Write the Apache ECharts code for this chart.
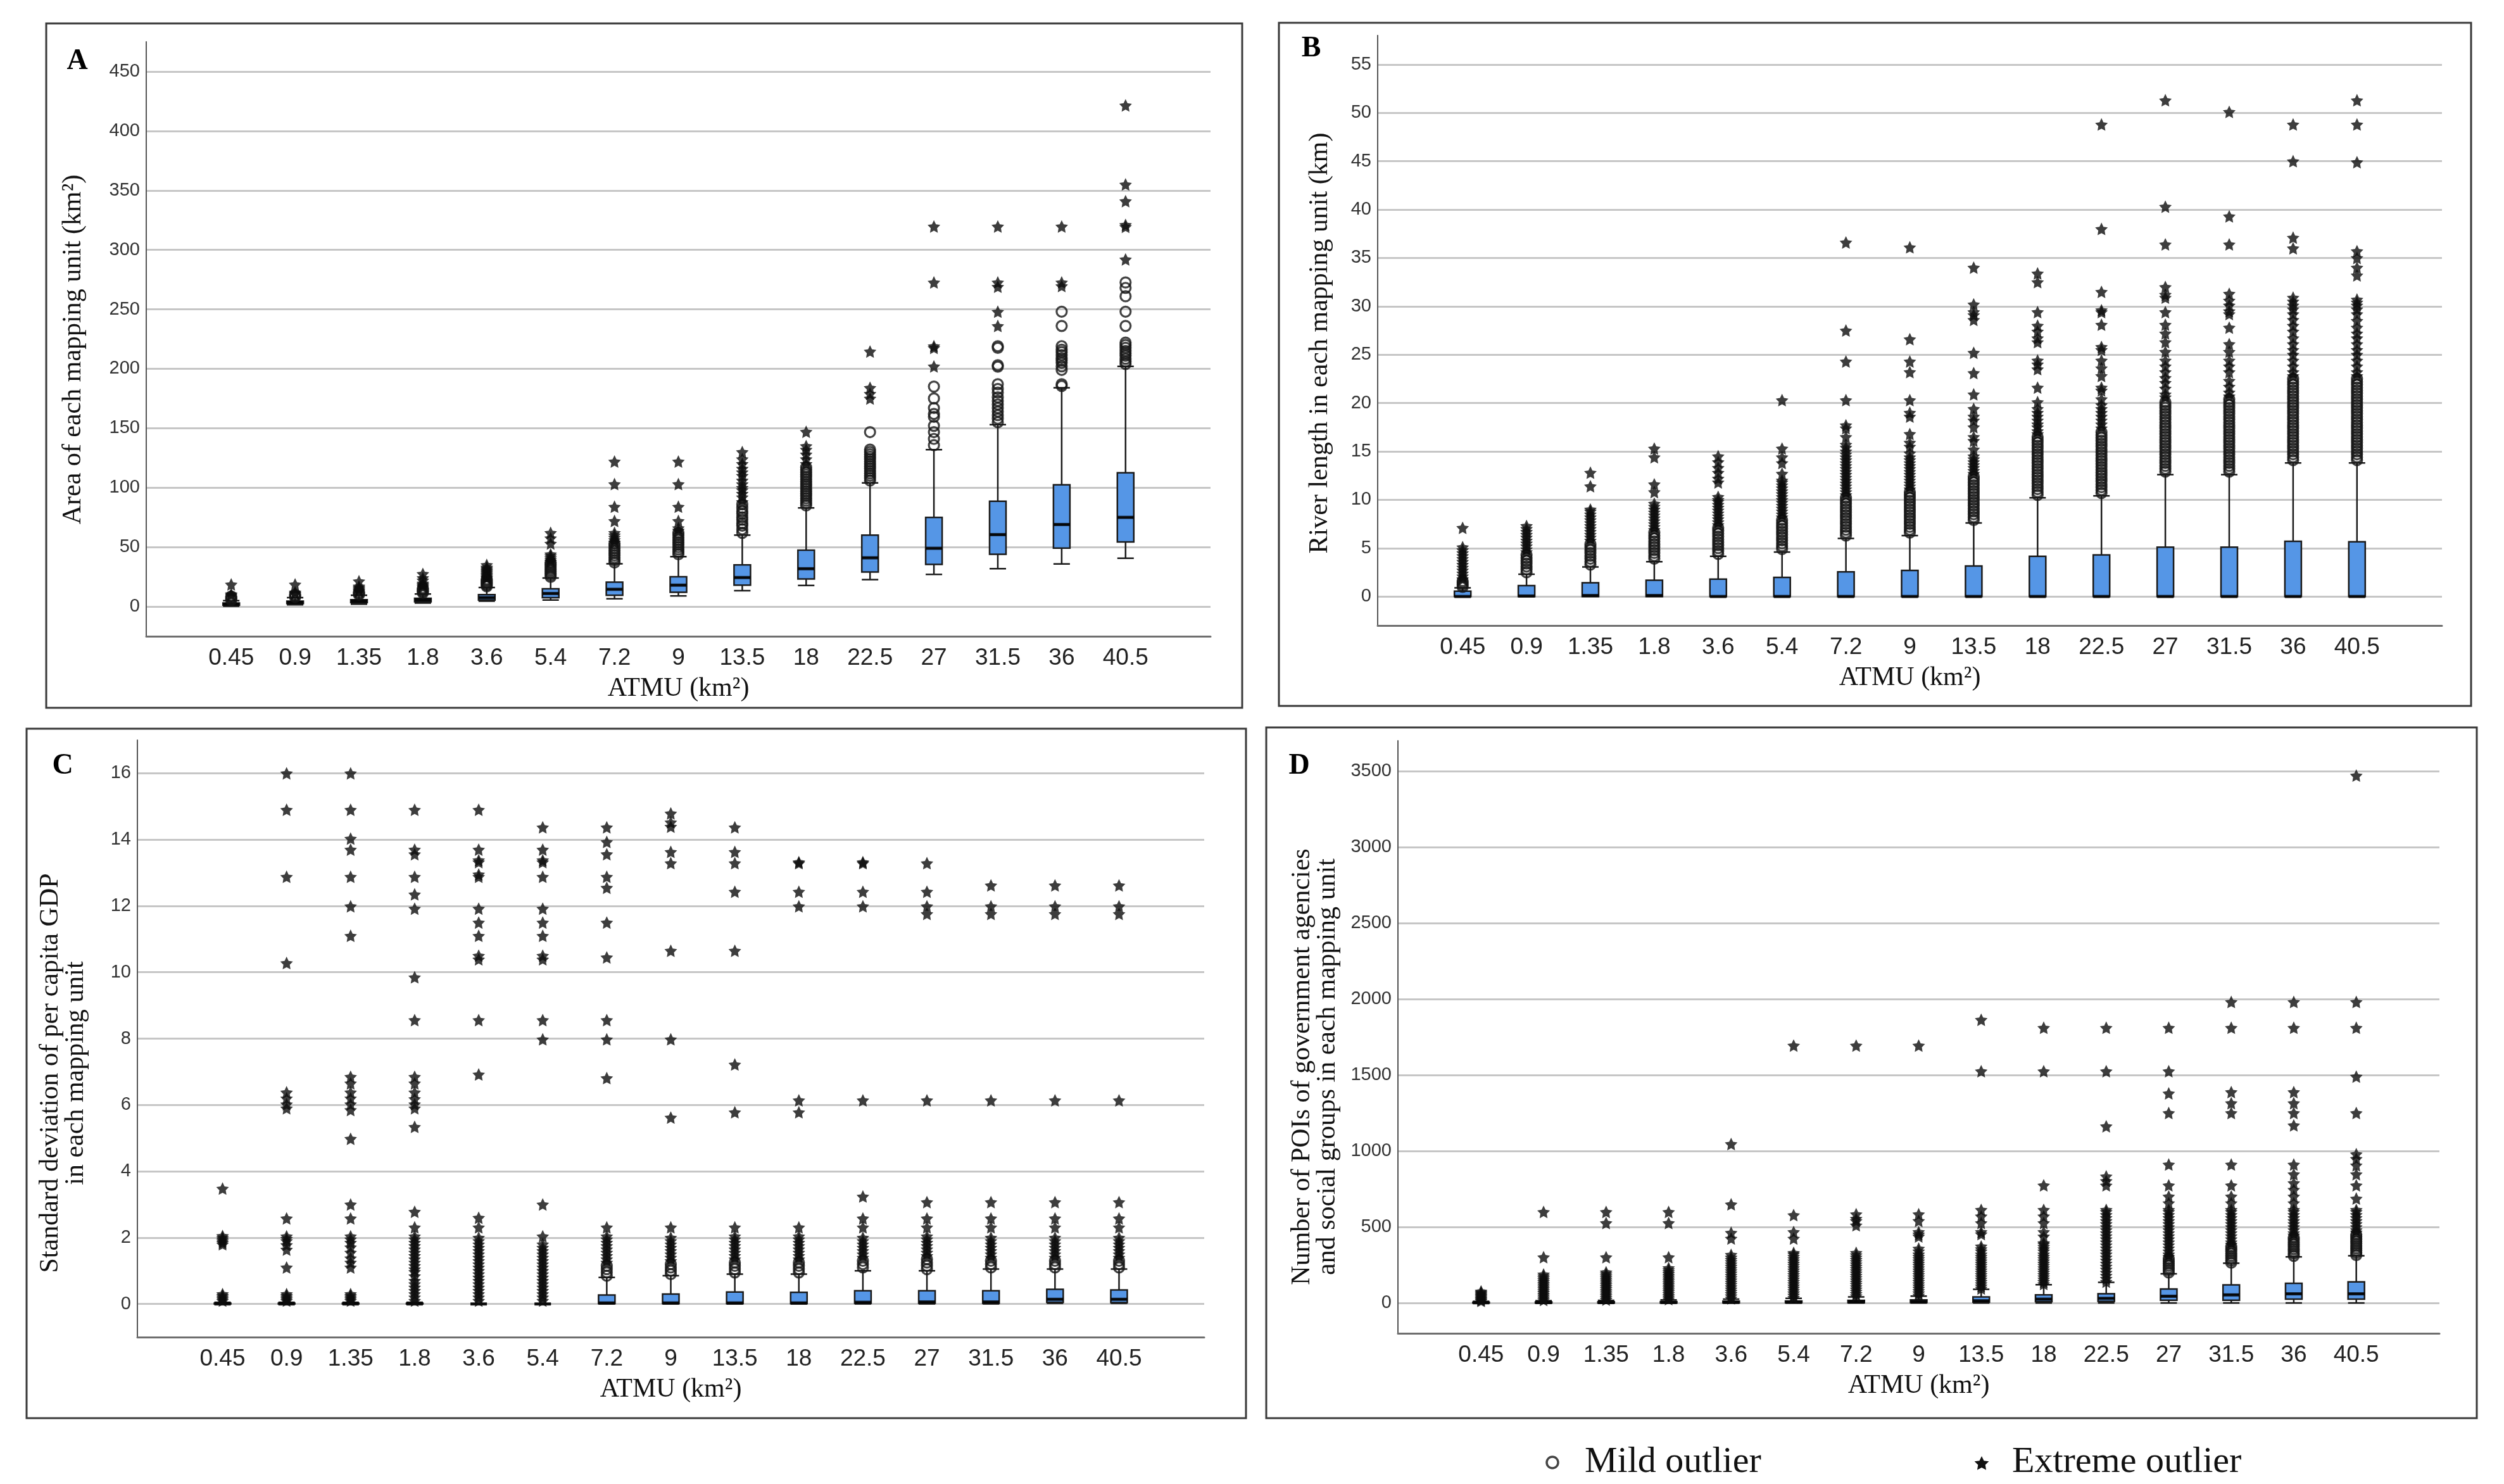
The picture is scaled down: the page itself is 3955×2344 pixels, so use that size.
<!DOCTYPE html>
<html>
<head>
<meta charset="utf-8">
<script src="https://cdn.jsdelivr.net/npm/echarts@6/dist/echarts.min.js"></script>
<style>html,body{margin:0;padding:0;background:#fff;}#chart{width:3955px;height:2344px;}</style>
</head>
<body>
<div id="chart"></div>
<script>
const categories = ['0.45','0.9','1.35','1.8','3.6','5.4','7.2','9','13.5','18','22.5','27','31.5','36','40.5'];

// ---------- Panel A: area (km2) ----------  [min, Q1, median, Q3, max]
const aBox = [
  [0.3,1.2,2.0,3.0,5],[1.5,2.5,3.5,4.5,7.5],[2,3.3,4.5,5.8,9.5],[3,4,5.5,7,10.5],[4.5,5.5,7.5,10,16],
  [5.5,7.5,11,15,24],[6.5,9.5,14.5,20.5,36],[9,12,18,25,42],[13.4,18,24.4,35,60],[17.7,23.2,31.8,47.4,83],
  [22.6,29,41,60,104],[27,35.5,49,75,132],[31.8,44,60.5,88.6,153],[35.8,49.2,69,102.4,184],[40.6,54.4,75,112.5,202]
];
const aMild = [
  [5.5,6.5,7.5,8.5],[8,9,10],[10,11,12],[11.5,12.5,13.5,14.5,15.5],[17,18,19,20,21,22,23],
  [25,26.5,28,29.5,31,32.5,34,35.5,37],[37,39,41,43,45,47,49,51,53],[44,46,48,50,52,54,56,58,60,62],
  [62,65,68,70,73,75,78,80,83,86],
  [85,87,89,91,93,95,97,99,101,103,105,107,109,111,113,115,117],
  [106,108,110,112,114,116,118,120,122,124,126,128,130,132,146.7],
  [135.7,141,146.7,152,159.5,162,167,175,185],
  [155,158,161,164,167,170,173,176,180,183,187,201.7,203,217.6,219],
  [185.5,187,199,202,205,207,209,211.5,214,216,219,236,248],
  [204,206,208.4,211,213,215,217.6,220,222,236,248,261,268,272.6]
];
const aExtreme = [
  [9.5,10.5,18.6],[11,12,18.6],[13,14,15,16,17,21.3],[16.5,17.5,18.5,19.5,22,24,27.5],
  [24,25,26,27,28,29,30,31,32,33,35],[38,39.5,41,42.5,44,53,57.5,62],[54,56,58,60,62,72,84,103,122],
  [64,66,72,84,103,122],[88,92,95,98,100,103,106,110,113,116,120,124,130],[120,124,128,132,135,147],
  [175,179,184,214.5],[202,217.6,219,272.6,319.7],[236,248,269,272.6,319.7],[269.6,272.6,319.7],
  [292,319.4,321,341,355,421.5]
];

// ---------- Panel B: river length (km) ----------
const bBox = [
  [0,0,0,0.55,0.9],[0,0,0.05,1.12,2.3],[0,0,0.1,1.42,3.05],[0,0,0.1,1.68,3.6],[0,0,0,1.8,4.15],
  [0,0,0,1.97,4.6],[0,0,0,2.55,6.0],[0,0,0,2.7,6.3],[0,0,0,3.15,7.6],[0,0,0,4.15,10.2],
  [0,0,0,4.3,10.4],[0,0,0,5.1,12.6],[0,0,0,5.1,12.6],[0,0,0,5.7,13.8],[0,0,0,5.65,13.8]
];
const bMild = [
  [1.0,1.2,1.4,1.6],
  [2.5,2.8,3.1,3.4,3.7,4.0,4.3],
  [3.3,3.6,3.9,4.2,4.5,4.8,5.1,5.4],
  [3.9,4.2,4.5,4.8,5.1,5.4,5.7,6.0,6.3,6.6],
  [4.4,4.7,5.0,5.3,5.6,5.9,6.2,6.5,6.8,7.1],
  [4.9,5.2,5.5,5.8,6.1,6.4,6.7,7.0,7.3,7.6,7.9],
  [6.3,6.6,6.9,7.2,7.5,7.8,8.1,8.4,8.7,9.0,9.3,9.6,9.9,10.2],
  [6.6,6.9,7.2,7.5,7.8,8.1,8.4,8.7,9.0,9.3,9.6,9.9,10.2,10.5,10.8],
  [7.9,8.2,8.5,8.8,9.1,9.4,9.7,10.0,10.3,10.6,10.9,11.2,11.5,11.8,12.1,12.4],
  [10.5,10.8,11.1,11.4,11.7,12.0,12.3,12.6,12.9,13.2,13.5,13.8,14.1,14.4,14.7,15.0,15.3,15.6,15.9,16.2,16.5],
  [10.7,11.0,11.3,11.6,11.9,12.2,12.5,12.8,13.1,13.4,13.7,14.0,14.3,14.6,14.9,15.2,15.5,15.8,16.1,16.4,16.7,17.0],
  [12.9,13.2,13.5,13.8,14.1,14.4,14.7,15.0,15.3,15.6,15.9,16.2,16.5,16.8,17.1,17.4,17.7,18.0,18.3,18.6,18.9,19.2,19.5,19.8,20.1],
  [12.9,13.2,13.5,13.8,14.1,14.4,14.7,15.0,15.3,15.6,15.9,16.2,16.5,16.8,17.1,17.4,17.7,18.0,18.3,18.6,18.9,19.2,19.5,19.8,20.1,20.4],
  [14.1,14.4,14.7,15.0,15.3,15.6,15.9,16.2,16.5,16.8,17.1,17.4,17.7,18.0,18.3,18.6,18.9,19.2,19.5,19.8,20.1,20.4,20.7,21.0,21.3,21.6,21.9,22.2,22.5],
  [14.1,14.4,14.7,15.0,15.3,15.6,15.9,16.2,16.5,16.8,17.1,17.4,17.7,18.0,18.3,18.6,18.9,19.2,19.5,19.8,20.1,20.4,20.7,21.0,21.3,21.6,21.9,22.2,22.5]
];
const bExtreme = [
  [1.8,2.1,2.4,2.7,3.0,3.3,3.6,3.9,4.2,4.5,4.8,5.1,7.1],
  [4.6,4.9,5.2,5.5,5.8,6.1,6.4,6.7,7.0,7.3],
  [5.8,6.1,6.4,6.7,7.0,7.3,7.6,7.9,8.2,8.5,8.8,9.0,11.4,12.8],
  [6.9,7.2,7.5,7.8,8.1,8.4,8.7,9.0,9.3,9.6,10.8,11.6,14.4,15.3],
  [7.4,7.7,8.0,8.3,8.6,8.9,9.2,9.5,9.8,10.0,10.3,11.8,12.2,12.8,13.3,13.9,14.5],
  [8.2,8.5,8.8,9.1,9.4,9.7,10.0,10.3,10.6,10.9,11.2,11.5,11.8,12.0,12.7,13.8,14.4,15.3,20.3],
  [10.5,10.8,11.1,11.4,11.7,12.0,12.3,12.6,12.9,13.2,13.5,13.8,14.1,14.4,14.7,15.0,15.4,15.7,16.5,17.4,17.7,20.3,24.3,27.5,36.6],
  [11.1,11.4,11.7,12.0,12.3,12.6,12.9,13.2,13.5,13.8,14.1,14.4,14.8,15.5,15.9,16.8,18.6,19.0,20.3,23.2,24.3,26.6,36.1],
  [12.7,13.0,13.3,13.6,13.9,14.2,14.5,15.2,16.1,16.5,17.5,18.2,18.6,19.4,20.9,23.1,25.2,28.6,29.1,29.4,30.2,34.0],
  [16.8,17.1,17.5,17.8,18.2,18.6,19.0,19.4,20.1,21.6,23.5,24.0,24.4,26.3,26.7,27.4,28.0,29.4,32.5,33.4],
  [17.4,17.8,18.2,18.6,19.0,19.4,19.8,20.4,21.3,21.6,22.8,23.6,24.4,25.5,25.8,28.1,29.4,29.6,31.5,38.0,48.8],
  [20.6,20.9,21.5,22.1,22.6,23.2,23.8,24.4,25.3,26.3,27.2,28.1,29.4,30.9,31.2,32.0,36.4,40.3,51.3],
  [20.7,21.1,21.7,22.3,23.2,23.8,24.4,25.3,26.1,27.8,29.2,29.5,30.1,30.6,31.3,36.4,39.3,50.1],
  [22.8,23.2,23.8,24.4,25.0,25.5,26.1,26.7,27.4,28.0,28.6,29.2,29.7,30.1,30.5,30.9,36.0,37.1,45.0,48.8],
  [22.8,23.2,23.8,24.4,25.0,25.5,26.1,26.7,27.2,27.8,28.5,29.2,29.7,30.1,30.4,30.7,33.2,34.0,35.0,35.7,44.9,48.8,51.3]
];

// ---------- Panel C: SD of per capita GDP ----------
const cBox = [
  [0,0,0,0.02,0.05],[0,0,0,0.02,0.05],[0,0,0,0.02,0.05],[0,0,0,0.02,0.05],[0,0,0,0,0],
  [0,0,0,0,0],[0,0.01,0.03,0.27,0.8],[0,0.01,0.03,0.3,0.85],[0,0.01,0.03,0.36,0.9],[0,0.01,0.03,0.35,0.9],
  [0,0.02,0.05,0.4,1.0],[0,0.02,0.06,0.4,1.0],[0,0.02,0.06,0.4,1.05],[0.02,0.05,0.14,0.44,1.05],[0.02,0.04,0.14,0.42,1.05]
];
const cMild = [
  [],[],[],[],[],[],
  [0.85,0.95,1.05,1.15],[0.9,1.0,1.1,1.2],[0.95,1.05,1.15,1.25],[0.95,1.05,1.15,1.25],
  [1.1,1.2,1.3],[1.05,1.15,1.25,1.35],[1.1,1.2,1.3],[1.1,1.2,1.3],[1.1,1.2,1.3]
];
const cExtreme = [
  [0.1,0.15,0.2,0.25,0.3,1.8,1.85,1.9,1.95,2.0,2.05,3.48],
  [0.1,0.15,0.2,0.25,0.3,1.1,1.64,1.78,1.9,1.97,2.04,2.58,5.9,6.02,6.2,6.38,10.28,12.88,14.9,16],
  [0.1,0.15,0.2,0.25,0.3,1.1,1.25,1.38,1.55,1.71,1.85,1.95,2.04,2.58,3.0,4.98,5.85,6.02,6.2,6.38,6.65,6.85,11.1,11.99,12.88,13.7,14.03,14.9,16],
  [0.1,0.2,0.3,0.4,0.5,0.6,0.7,0.84,0.97,1.05,1.15,1.25,1.35,1.45,1.55,1.65,1.75,1.85,1.95,2.04,2.31,2.78,5.34,5.9,6.02,6.18,6.38,6.65,6.85,8.56,9.85,11.92,12.35,12.88,13.56,13.7,14.9],
  [0.1,0.2,0.3,0.4,0.5,0.6,0.7,0.8,0.9,1.0,1.1,1.2,1.3,1.4,1.5,1.6,1.7,1.8,1.9,2.0,2.31,2.6,6.92,8.56,10.39,10.5,11.1,11.5,11.92,12.88,12.95,13.32,13.38,13.7,14.9],
  [0.1,0.2,0.3,0.4,0.5,0.6,0.7,0.8,0.9,1.0,1.1,1.2,1.3,1.4,1.5,1.6,1.7,1.8,2.04,3.0,7.98,8.56,10.39,10.5,11.1,11.5,11.92,12.88,13.32,13.38,13.7,14.37],
  [1.25,1.35,1.45,1.55,1.65,1.75,1.85,1.95,2.04,2.31,6.81,7.98,8.56,10.45,11.5,12.55,12.88,13.56,13.93,14.37],
  [1.3,1.4,1.5,1.6,1.7,1.8,1.9,2.0,2.31,5.62,7.98,10.65,13.29,13.63,14.39,14.52,14.79],
  [1.35,1.45,1.55,1.65,1.75,1.85,1.95,2.04,2.31,5.78,7.22,10.65,12.43,13.29,13.63,14.37],
  [1.35,1.45,1.55,1.65,1.75,1.85,1.95,2.04,2.31,5.78,6.14,11.99,12.43,13.29,13.32],
  [1.4,1.5,1.6,1.7,1.8,1.9,2.0,2.31,2.58,3.24,6.14,11.99,12.43,13.29,13.32],
  [1.45,1.55,1.65,1.75,1.85,1.95,2.04,2.31,2.58,3.07,6.14,11.76,11.99,12.43,13.29],
  [1.4,1.5,1.6,1.7,1.8,1.9,2.0,2.31,2.58,3.07,6.14,11.76,11.99,12.62],
  [1.4,1.5,1.6,1.7,1.8,1.9,2.0,2.31,2.58,3.07,6.14,11.76,11.99,12.62],
  [1.4,1.5,1.6,1.7,1.8,1.9,2.0,2.31,2.58,3.07,6.14,11.76,11.99,12.62]
];

// ---------- Panel D: POIs ----------
const dBox = [
  [0,0,1,4,10],[0,0,2,6,15],[0,0,2,7,17],[0,0,3,8,20],[0,1,4,11,25],
  [0,2,5,13,30],[0,2,7,17,40],[0,3,8,20,45],[0,5,14,40,90],[0,8,25,53,120],
  [0,10,30,60,135],[0,18,44,92,192],[0,18,53,119,261],[0,25,60,129,303],[0,25,60,139,310]
];
const dMild = [
  [],[],[],[],[],[],[],[],[],[],[],
  [200,215,230,245,260,275,290],
  [265,280,295,310,325,340,355,370],
  [310,325,340,355,370,385,400,415,430],
  [315,330,345,360,375,390,405,420,435,450]
];
const dExtreme = [
  [14,20,27,34,41,48,55,62,69,76],
  [20,32,44,56,68,80,92,104,116,128,140,152,164,176,188,301,599],
  [22,34,46,58,70,82,94,106,118,130,142,154,166,178,190,202,301,526,599],
  [25,37,49,61,73,85,97,109,121,133,145,157,169,181,193,205,217,230,301,526,599],
  [30,45,60,75,90,105,120,135,150,165,180,195,210,225,240,255,270,285,300,317,424,462,649,1046],
  [35,50,65,80,95,110,125,140,155,170,185,200,215,230,245,260,275,290,305,320,330,424,467,578,1694],
  [45,60,75,90,105,120,135,150,165,180,195,210,225,240,255,270,285,300,315,330,511,540,555,584,1694],
  [50,65,80,95,110,125,140,155,170,185,200,215,230,245,260,275,290,305,320,340,358,438,452,467,540,584,1694],
  [95,110,125,140,155,170,185,200,215,230,245,260,275,290,305,320,340,355,372,453,467,526,570,613,1525,1864],
  [125,140,155,170,185,200,215,230,245,260,275,290,305,320,340,355,370,386,394,438,467,526,570,613,774,1525,1811],
  [140,160,180,200,220,240,260,280,300,320,340,360,380,400,420,440,460,480,500,520,540,560,580,600,613,774,803,833,1163,1525,1811],
  [305,320,340,360,380,400,420,440,460,480,500,520,540,560,580,600,613,657,701,774,911,1250,1379,1525,1811],
  [385,400,420,440,460,480,500,520,540,560,580,600,613,657,701,774,911,1250,1315,1388,1811,1981],
  [445,460,480,500,520,540,560,580,600,613,657,701,745,789,847,911,1169,1250,1315,1388,1811,1981],
  [465,480,500,520,540,560,580,600,613,687,774,847,906,949,979,1250,1490,1811,1981,3471]
];

const yTitles = [
  'Area of each mapping unit (km\u00B2)',
  'River length in each mapping unit (km)',
  'Standard deviation of per capita GDP\nin each mapping unit',
  'Number of POIs of government agencies\nand social groups in each mapping unit'
];
const xTitle = 'ATMU (km\u00B2)';
const panelLetters = ['A','B','C','D'];
const legendNames = ['Mild outlier','Extreme outlier'];

// ---------- styling / layout ----------
const SERIF = "'Liberation Serif','Times New Roman',serif";
const NARROW = "'Liberation Sans Narrow','Arial Narrow','Liberation Sans',sans-serif";
const STAR = 'path://M0,-10 L2.94,-4.05 L9.51,-3.09 L4.76,1.55 L5.88,8.09 L0,5 L-5.88,8.09 L-4.76,1.55 L-9.51,-3.09 L-2.94,-4.05 Z';
const T = 'rgba(0,0,0,0)', G = '#c6c6c6';

const panels = [
  {grid:{left:231,top:66,width:1681,height:939}, y:{min:-25,max:475,interval:25,step:50,colors:[T,G]},
   box:aBox, mild:aMild, ext:aExtreme, title:{x:116,y:552}, letter:{x:122,y:97}, frame:[73,37,1889,1081]},
  {grid:{left:2176,top:56,width:1681,height:932}, y:{min:-3,max:58,interval:1,step:5,colors:[T,T,T,G,T]},
   box:bBox, mild:bMild, ext:bExtreme, title:{x:2085,y:542}, letter:{x:2071,y:77}, frame:[2020,36,1883,1079]},
  {grid:{left:217,top:1169,width:1685,height:943}, y:{min:-1,max:17,interval:1,step:2,colors:[T,G]},
   box:cBox, mild:cMild, ext:cExtreme, title:{x:100,y:1695}, letter:{x:99,y:1210}, frame:[42,1151,1926,1089]},
  {grid:{left:2208,top:1170,width:1645,height:936}, y:{min:-200,max:3700,interval:100,step:500,colors:[T,T,G,T,T]},
   box:dBox, mild:dMild, ext:dExtreme, title:{x:2077,y:1685}, letter:{x:2052,y:1210}, frame:[2000,1149,1912,1091]}
];

function flat(groups){ const out=[]; groups.forEach((vals,i)=>vals.forEach(v=>out.push([i,v]))); return out; }
function starPoints(cx, cy, R){
  const pts=[]; const r=R*0.5;
  for(let k=0;k<10;k++){ const a=-Math.PI/2+k*Math.PI/5; const rr=(k%2===0)?R:r; pts.push([cx+rr*Math.cos(a), cy+rr*Math.sin(a)]); }
  return pts;
}

const grids=[], xAxes=[], yAxes=[], series=[], graphics=[];
panels.forEach((p,i)=>{
  grids.push(p.grid);
  xAxes.push({type:'value', gridIndex:i, min:-1.33, max:15.33,
    splitLine:{show:false}, axisTick:{show:false},
    axisLine:{show:true,onZero:false,lineStyle:{color:'#6e6e6e',width:3}},
    axisLabel:{customValues:categories.map((c,k)=>k), formatter:v=>categories[Math.round(v)]||'',
      fontSize:37, fontFamily:NARROW, color:'#222', margin:16},
    name:xTitle, nameLocation:'middle', nameGap:62,
    nameTextStyle:{fontSize:42, fontFamily:SERIF, color:'#111'}});
  const st=p.y.step;
  yAxes.push({type:'value', gridIndex:i, min:p.y.min, max:p.y.max, interval:p.y.interval,
    axisLine:{show:true,onZero:false,lineStyle:{color:'#555',width:2}}, axisTick:{show:false},
    splitLine:{show:true,lineStyle:{color:p.y.colors,width:3}},
    axisLabel:{formatter:v=>(v>=0 && Math.abs(v/st-Math.round(v/st))<1e-6)?String(v):'',
      fontSize:29, fontFamily:NARROW, color:'#333', margin:10}});
  series.push({type:'boxplot', xAxisIndex:i, yAxisIndex:i, boxWidth:[26,26], z:2,
    itemStyle:{color:'#5596e6', borderColor:'#1a1a1a', borderWidth:2.5},
    emphasis:{disabled:true},
    data:p.box.map((b,k)=>[k].concat(b))});
  series.push({type:'scatter', xAxisIndex:i, yAxisIndex:i, z:3, symbol:'rect', symbolSize:[26,5],
    itemStyle:{color:'#000'}, silent:true,
    data:p.box.map((b,k)=>[k,b[2]])});
  series.push({type:'scatter', name:legendNames[0], xAxisIndex:i, yAxisIndex:i, z:4, symbol:'circle', symbolSize:16,
    itemStyle:{color:'rgba(255,255,255,0)', borderColor:'#151515', borderWidth:3.2}, data:flat(p.mild)});
  series.push({type:'scatter', name:legendNames[1], xAxisIndex:i, yAxisIndex:i, z:5, symbol:STAR, symbolSize:20,
    itemStyle:{color:'#0d0d0d'}, data:flat(p.ext)});
  graphics.push({type:'rect', shape:{x:p.frame[0],y:p.frame[1],width:p.frame[2],height:p.frame[3]},
    style:{fill:'none', stroke:'#3a3a3a', lineWidth:3}, silent:true});
  graphics.push({type:'text', x:p.title.x, y:p.title.y, rotation:Math.PI/2,
    style:{text:yTitles[i], font:"42px "+SERIF, fill:'#111', align:'center', verticalAlign:'middle', lineHeight:40}});
  graphics.push({type:'text', x:p.letter.x, y:p.letter.y,
    style:{text:panelLetters[i], font:"bold 46px "+SERIF, fill:'#000', align:'center', verticalAlign:'middle'}});
});

// legend (drawn below the panels)
graphics.push({type:'circle', shape:{cx:2452,cy:2310,r:9}, style:{fill:'#fff',stroke:'#444',lineWidth:3.5}});
graphics.push({type:'text', x:2503, y:2310, style:{text:legendNames[0], font:"58px "+SERIF, fill:'#111', align:'left', verticalAlign:'middle'}});
graphics.push({type:'polygon', shape:{points:starPoints(3130,2312,12)}, style:{fill:'#111'}});
graphics.push({type:'text', x:3178, y:2310, style:{text:legendNames[1], font:"58px "+SERIF, fill:'#111', align:'left', verticalAlign:'middle'}});

const chart = echarts.init(document.getElementById('chart'), null, {renderer:'canvas'});
chart.setOption({
  backgroundColor:'#fff', animation:false,
  grid:grids, xAxis:xAxes, yAxis:yAxes, series:series, graphic:graphics
});
</script>
</body>
</html>
